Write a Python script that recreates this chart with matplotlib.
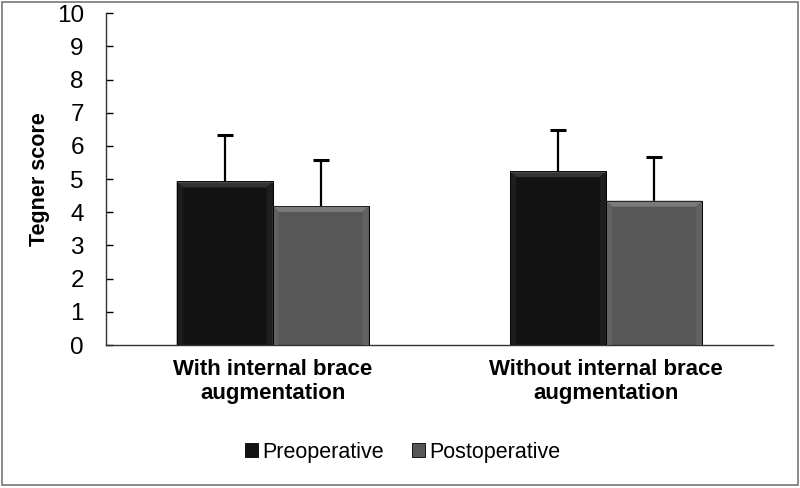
import matplotlib
matplotlib.use("Agg")
import matplotlib.pyplot as plt
from matplotlib.patches import Polygon, Rectangle
import numpy as np

plt.rcParams['font.family'] = ['Liberation Sans', 'DejaVu Sans']

categories = ["With internal brace\naugmentation", "Without internal brace\naugmentation"]
series_names = ["Preoperative", "Postoperative"]
pre_means = [4.93, 5.24]
pre_sd = [1.39, 1.25]
post_means = [4.19, 4.35]
post_sd = [1.38, 1.32]
yticks = list(range(0, 11))

fill_colors = ["#121212", "#575757"]
top_bevel = ["#333333", "#7a7a7a"]
top_line = ["#4a4a4a", "#f0f0f0"]
side_bevel = ["#1e1e1e", "#626262"]

fig = plt.figure(figsize=(8.0, 4.88), dpi=100)
ax = fig.add_axes([0.1325, 0.293, 0.8335, 0.680])

x = np.arange(len(categories))
w = 0.288
groups = [(pre_means, pre_sd), (post_means, post_sd)]
all_bars = []
for i, (means, sd) in enumerate(groups):
    off = (i - 0.5) * w
    m = np.array(means)
    s = np.array(sd)
    bars = ax.bar(x + off, m, width=w, color=fill_colors[i], edgecolor="#000000",
                  linewidth=0.6, label=series_names[i], zorder=2)
    ax.errorbar(x + off, m + s / 2, yerr=s / 2, fmt="none", ecolor="black",
                elinewidth=1.6, capsize=0, zorder=1)
    ax.plot(x + off, m + s, linestyle="none", marker="_", markersize=11,
            markeredgewidth=2.2, color="black", zorder=1)
    all_bars.append((bars, i))

ax.set_xlim(-0.5, 1.5)
ax.set_ylim(0, 10)
ax.set_yticks(yticks)
ax.set_xticks(x)
ax.set_xticklabels(categories, fontsize=16, fontweight="bold", linespacing=1.2)
ax.tick_params(axis="x", length=0, pad=10)
ax.tick_params(axis="y", direction="in", length=5, width=1, pad=16, labelsize=17.5)
for s in ["top", "right"]:
    ax.spines[s].set_visible(False)
for s in ["left", "bottom"]:
    ax.spines[s].set_linewidth(1.0)
    ax.spines[s].set_color("#333333")
ax.set_ylabel("Tegner score", fontsize=15.5, fontweight="bold", labelpad=5)

# bevel overlays derived from bar geometry
fig.canvas.draw()
inv = ax.transData.inverted()
o = inv.transform((0, 0))
px_x = inv.transform((6, 0))[0] - o[0]
px_y = inv.transform((0, 6))[1] - o[1]
line_y = inv.transform((0, 1.5))[1] - o[1]
for bars, i in all_bars:
    for b in bars:
        x0, y0 = b.get_x(), b.get_y()
        x1, y1 = x0 + b.get_width(), y0 + b.get_height()
        dx, dy = px_x, px_y
        top = Polygon([(x0, y1), (x1, y1), (x1 - dx, y1 - dy), (x0 + dx, y1 - dy)],
                      closed=True, facecolor=top_bevel[i], edgecolor="none", zorder=3)
        left = Polygon([(x0, y0), (x0, y1), (x0 + dx, y1 - dy), (x0 + dx, y0)],
                       closed=True, facecolor=side_bevel[i], edgecolor="none", zorder=3)
        right = Polygon([(x1, y0), (x1, y1), (x1 - dx, y1 - dy), (x1 - dx, y0)],
                        closed=True, facecolor=side_bevel[i], edgecolor="none", zorder=3)
        for p in (top, left, right):
            ax.add_patch(p)
        ax.add_patch(Rectangle((x0, y1 - line_y), b.get_width(), line_y,
                               facecolor=top_line[i], edgecolor="none", zorder=3))
        ax.add_patch(Rectangle((x0, y0), b.get_width(), b.get_height(), fill=False,
                               edgecolor="#000000", linewidth=0.6, zorder=4))

leg = fig.legend(loc="center", bbox_to_anchor=(0.503, 0.073), ncol=2, frameon=False,
                 fontsize=15.5, handlelength=0.6, handleheight=0.6, handletextpad=0.2,
                 columnspacing=1.3)

# outer frame
fig.patches.append(Rectangle((0.003, 0.006), 0.994, 0.99, transform=fig.transFigure,
                             fill=False, edgecolor="#777777", linewidth=1.2))

fig.savefig("out.png", dpi=100)
